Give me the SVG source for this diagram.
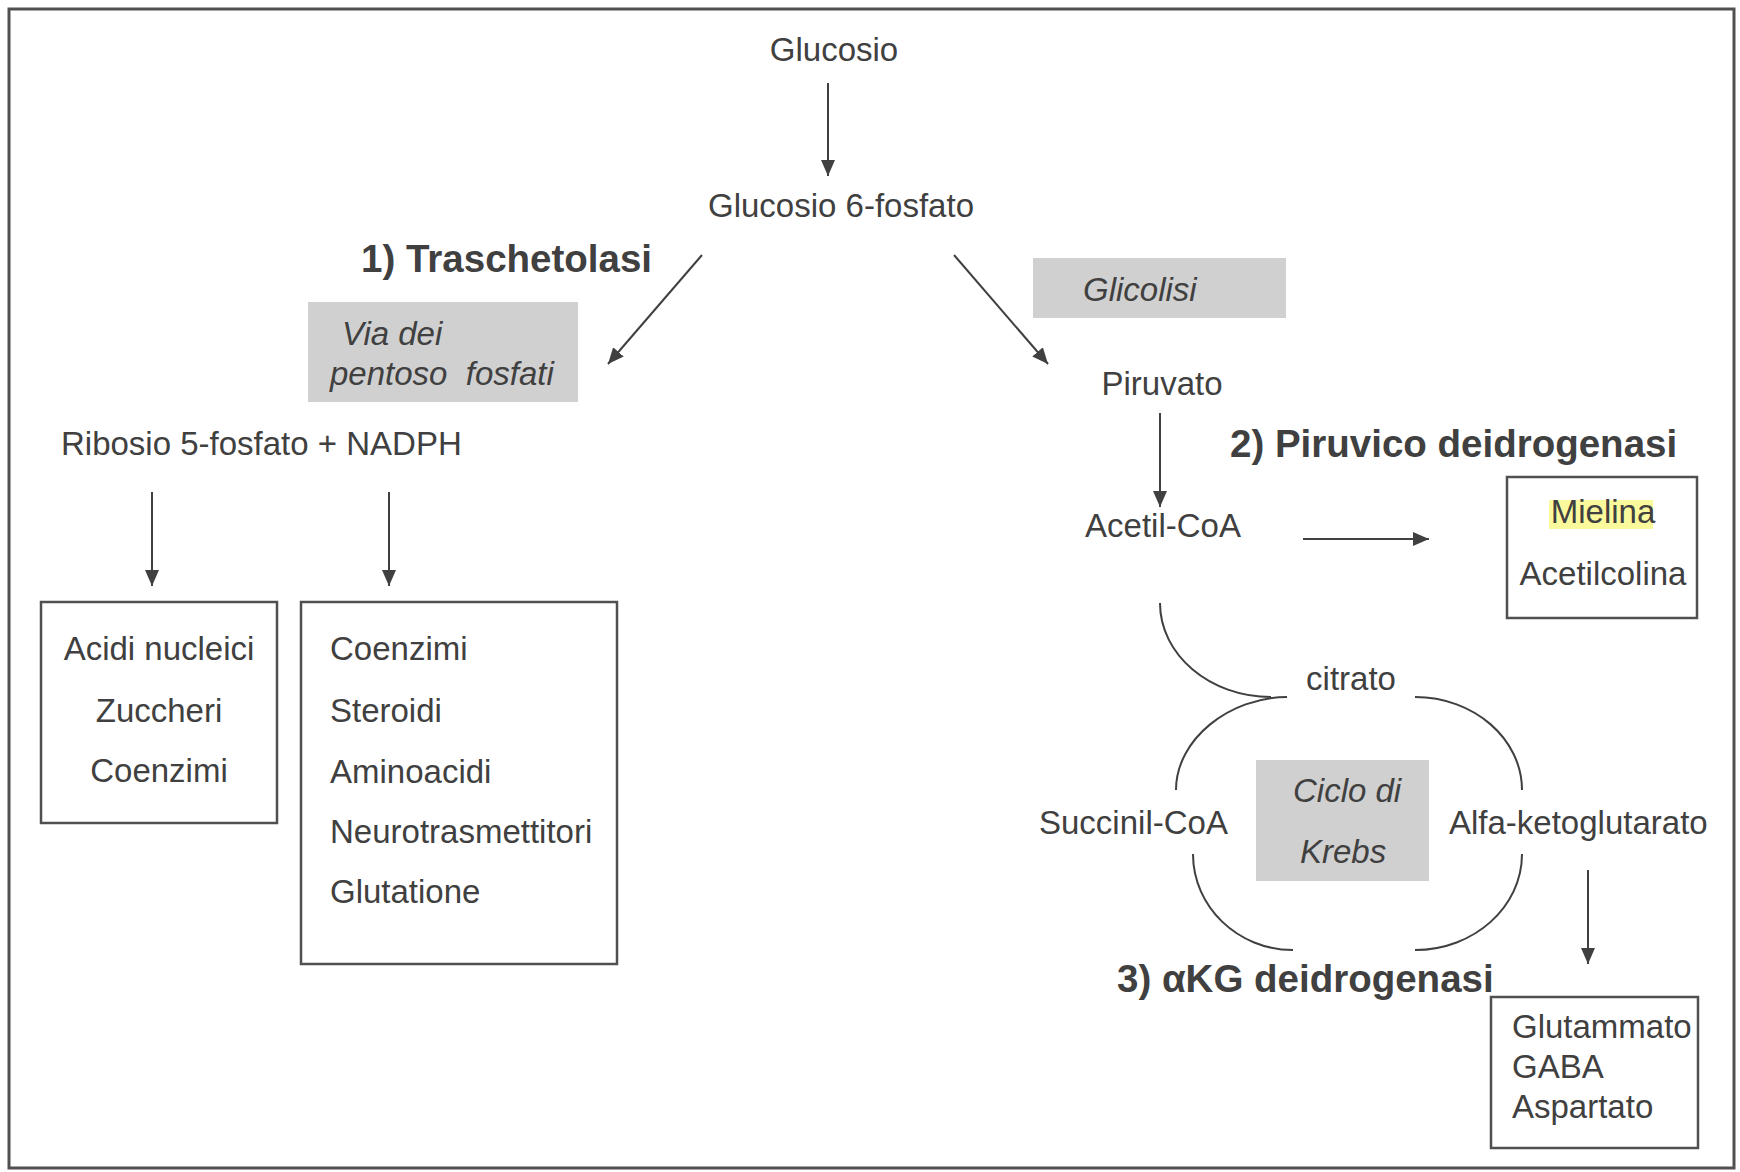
<svg xmlns="http://www.w3.org/2000/svg" width="1740" height="1172" viewBox="0 0 1740 1172">
<style>
.t{font-family:"Liberation Sans",Arial,sans-serif;font-size:33px;fill:#404040}
.i{font-style:italic}
.b{font-weight:bold;font-size:38.5px}
.box{fill:#fff;stroke:#505050;stroke-width:2.5}
.gray{fill:#d0d0d0;stroke:none}
.ln{fill:none;stroke:#404040;stroke-width:2}
</style>
<defs>
<marker id="ah" markerUnits="userSpaceOnUse" markerWidth="16" markerHeight="14" refX="16" refY="7" orient="auto">
<path d="M0,0 L16,7 L0,14 z" fill="#404040"/>
</marker>
</defs>
<rect x="0" y="0" width="1740" height="1172" fill="#fff"/>
<rect x="9" y="9" width="1725" height="1159" fill="none" stroke="#505050" stroke-width="3"/>

<g id="glucosio"><text class="t" x="834" y="61" text-anchor="middle">Glucosio</text></g>
<g id="g6p"><text class="t" x="841" y="217" text-anchor="middle">Glucosio 6-fosfato</text></g>
<g id="label1"><text class="t b" x="361" y="272">1) Traschetolasi</text></g>
<g id="pentoso">
<rect class="gray" x="308" y="302" width="270" height="100"/>
<text class="t i" x="342" y="345">Via dei</text>
<text class="t i" x="330" y="385" xml:space="preserve">pentoso  fosfati</text>
</g>
<g id="glicolisi">
<rect class="gray" x="1033" y="258" width="253" height="60"/>
<text class="t i" x="1083" y="301">Glicolisi</text>
</g>
<g id="ribosio"><text class="t" x="61" y="455">Ribosio 5-fosfato + NADPH</text></g>
<g id="box1">
<rect class="box" x="41" y="602" width="236" height="221"/>
<text class="t" x="159" y="660" text-anchor="middle">Acidi nucleici</text>
<text class="t" x="159" y="722" text-anchor="middle">Zuccheri</text>
<text class="t" x="159" y="782" text-anchor="middle">Coenzimi</text>
</g>
<g id="box2">
<rect class="box" x="301" y="602" width="316" height="362"/>
<text class="t" x="330" y="660">Coenzimi</text>
<text class="t" x="330" y="722">Steroidi</text>
<text class="t" x="330" y="783">Aminoacidi</text>
<text class="t" x="330" y="843">Neurotrasmettitori</text>
<text class="t" x="330" y="903">Glutatione</text>
</g>
<g id="piruvato"><text class="t" x="1162" y="395" text-anchor="middle">Piruvato</text></g>
<g id="label2"><text class="t b" x="1230" y="457">2) Piruvico deidrogenasi</text></g>
<g id="acetilcoa"><text class="t" x="1163" y="537" text-anchor="middle">Acetil-CoA</text></g>
<g id="mielina">
<rect class="box" x="1507" y="477" width="190" height="141"/>
<rect x="1549" y="500" width="104" height="29" fill="#fafa9c"/>
<text class="t" x="1603" y="523" text-anchor="middle">Mielina</text>
<text class="t" x="1603" y="585" text-anchor="middle">Acetilcolina</text>
</g>
<g id="citrato"><text class="t" x="1351" y="690" text-anchor="middle">citrato</text></g>
<g id="krebs">
<rect class="gray" x="1256" y="760" width="173" height="121"/>
<text class="t i" x="1293" y="802">Ciclo di</text>
<text class="t i" x="1300" y="863">Krebs</text>
</g>
<g id="succinil"><text class="t" x="1039" y="834">Succinil-CoA</text></g>
<g id="alfakg"><text class="t" x="1449" y="834">Alfa-ketoglutarato</text></g>
<g id="label3"><text class="t b" x="1117" y="992">3) αKG deidrogenasi</text></g>
<g id="glutammato">
<rect class="box" x="1491" y="997" width="207" height="151"/>
<text class="t" x="1512" y="1038">Glutammato</text>
<text class="t" x="1512" y="1078">GABA</text>
<text class="t" x="1512" y="1118">Aspartato</text>
</g>

<g id="connectors">
<line class="ln" x1="828" y1="83" x2="828" y2="176" marker-end="url(#ah)"/>
<line class="ln" x1="702" y1="255" x2="608" y2="364" marker-end="url(#ah)"/>
<line class="ln" x1="954" y1="255" x2="1048" y2="364" marker-end="url(#ah)"/>
<line class="ln" x1="152" y1="492" x2="152" y2="586" marker-end="url(#ah)"/>
<line class="ln" x1="389" y1="492" x2="389" y2="586" marker-end="url(#ah)"/>
<line class="ln" x1="1160" y1="413" x2="1160" y2="507" marker-end="url(#ah)"/>
<line class="ln" x1="1303" y1="539" x2="1429" y2="539" marker-end="url(#ah)"/>
<line class="ln" x1="1588" y1="870" x2="1588" y2="964" marker-end="url(#ah)"/>
<path class="ln" d="M1160,603 C1160,655 1210,697 1271,697"/>
<path class="ln" d="M1287,697 C1230,697 1176,739 1176,790"/>
<path class="ln" d="M1415,697 C1474,697 1522,739 1522,790"/>
<path class="ln" d="M1193,854 C1193,907 1238,950 1293,950"/>
<path class="ln" d="M1522,854 C1522,907 1474,950 1415,950"/>
</g>
</svg>
